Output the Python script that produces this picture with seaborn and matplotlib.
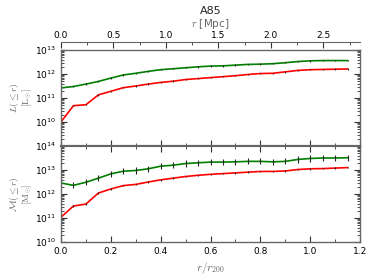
import numpy as np
import pandas as pd
import seaborn as sns
import matplotlib
matplotlib.use('Agg')
import matplotlib.pyplot as plt
from matplotlib.ticker import MultipleLocator, LogLocator, NullFormatter

# radius in units of r200, and r200 in Mpc for the top axis
r_r200 = [0.0, 0.05, 0.1, 0.15, 0.2, 0.25, 0.3, 0.35, 0.4, 0.45, 0.5, 0.55,
          0.6, 0.65, 0.7, 0.75, 0.8, 0.85, 0.9, 0.95, 1.0, 1.05, 1.1, 1.15]
r200_mpc = 2.375

# log10 cumulative luminosity
logL_green = [11.42, 11.48, 11.58, 11.69, 11.83, 11.96, 12.03, 12.11, 12.18, 12.22,
              12.26, 12.30, 12.33, 12.34, 12.37, 12.40, 12.41, 12.43, 12.47, 12.52,
              12.55, 12.56, 12.56, 12.56]
logL_red = [10.00, 10.68, 10.72, 11.13, 11.28, 11.43, 11.50, 11.58, 11.65, 11.70,
            11.77, 11.81, 11.85, 11.89, 11.93, 11.98, 12.02, 12.03, 12.09, 12.15,
            12.18, 12.19, 12.20, 12.21]

# log10 cumulative mass
logM_green = [12.46, 12.36, 12.49, 12.66, 12.84, 12.95, 12.98, 13.05, 13.16, 13.20,
              13.27, 13.30, 13.33, 13.33, 13.34, 13.36, 13.36, 13.34, 13.36, 13.44,
              13.48, 13.50, 13.50, 13.51]
logM_red = [11.03, 11.50, 11.58, 12.04, 12.21, 12.35, 12.40, 12.50, 12.59, 12.66,
            12.73, 12.78, 12.82, 12.85, 12.88, 12.91, 12.94, 12.94, 12.96, 13.02,
            13.05, 13.06, 13.08, 13.10]

GREEN = '#007f00'
RED = '#ff0000'
GREY = '0.4'

sns.set_style('ticks')
plt.rcParams['font.family'] = ['DejaVu Sans']
plt.rcParams['mathtext.fontset'] = 'cm'
plt.rcParams['font.size'] = 7

df = pd.DataFrame({'r': r_r200,
                   'L_green': 10 ** np.array(logL_green), 'L_red': 10 ** np.array(logL_red),
                   'M_green': 10 ** np.array(logM_green), 'M_red': 10 ** np.array(logM_red)})

fig, (ax1, ax2) = plt.subplots(2, 1, figsize=(3.74, 2.8), dpi=100, sharex=True)
fig.subplots_adjust(left=0.163, right=0.963, top=0.8214, bottom=0.1357, hspace=0)


def draw(ax, col, color, dex):
    sns.lineplot(data=df, x='r', y=col, ax=ax, color=color, lw=1.2)
    y = df[col].values
    err = [y * (1 - 10 ** -dex), y * (10 ** dex - 1)]
    ax.errorbar(df['r'], y, yerr=err, fmt='none', ecolor='0.15', elinewidth=0.8, capsize=0)


draw(ax1, 'L_green', GREEN, 0.03)
draw(ax1, 'L_red', RED, 0.03)
draw(ax2, 'M_green', GREEN, 0.13)
draw(ax2, 'M_red', RED, 0.03)

for ax, lims in ((ax1, (1e9, 1e13)), (ax2, (1e10, 1e14))):
    ax.set_yscale('log')
    ax.set_ylim(*lims)
    ax.set_xlim(0, 1.2)
    ax.xaxis.set_major_locator(MultipleLocator(0.2))
    ax.xaxis.set_minor_locator(MultipleLocator(0.1))
    ax.yaxis.set_major_locator(LogLocator(base=10, numticks=10))
    ax.yaxis.set_minor_locator(LogLocator(base=10, subs=np.arange(2, 10), numticks=10))
    ax.yaxis.set_minor_formatter(NullFormatter())
    ax.tick_params(which='both', direction='in', top=True, right=True, colors='0.2',
                   labelcolor='black', labelsize=6.5)
    ax.tick_params(which='major', length=4)
    ax.tick_params(which='minor', length=2)
    for s in ax.spines.values():
        s.set_color(GREY)
        s.set_linewidth(1.0)
    ax.set_xlabel('')

ax1.set_yticks([1e10, 1e11, 1e12, 1e13])
ax1.tick_params(labelbottom=False)
ax2.set_yticks([1e10, 1e11, 1e12, 1e13, 1e14])
ax1.spines['bottom'].set_linewidth(1.5)
ax2.spines['top'].set_linewidth(1.5)

ax1.set_ylabel('$L(\\leq r)$\n$[\\mathrm{L_{\\odot}}]$', color=GREY, fontsize=7, labelpad=1,
               linespacing=0.9)
ax2.set_ylabel('$\\mathcal{M}(\\leq r)$\n$[\\mathrm{M_{\\odot}}]$', color=GREY, fontsize=7,
               labelpad=1, linespacing=0.9)
ax2.set_xlabel('$r/r_{200}$', color=GREY, fontsize=8, labelpad=3)

# top axis in Mpc
axt = ax1.twiny()
axt.set_xlim(0, 1.2 * r200_mpc)
axt.xaxis.set_major_locator(MultipleLocator(0.5))
axt.xaxis.set_minor_locator(MultipleLocator(0.25))
axt.spines['top'].set_position(('outward', 5.5))
axt.spines['top'].set_color(GREY)
for s in ('left', 'right', 'bottom'):
    axt.spines[s].set_visible(False)
axt.tick_params(which='both', direction='in', colors='0.2', labelcolor='black',
                labelsize=6.5, pad=1.5)
axt.tick_params(which='major', length=4)
axt.tick_params(which='minor', length=2)
axt.set_xlabel('$r$ [Mpc]', color=GREY, fontsize=7.5, labelpad=3)
axt.set_title('A85', fontsize=8, pad=2)

fig.savefig('out.png', dpi=100)
